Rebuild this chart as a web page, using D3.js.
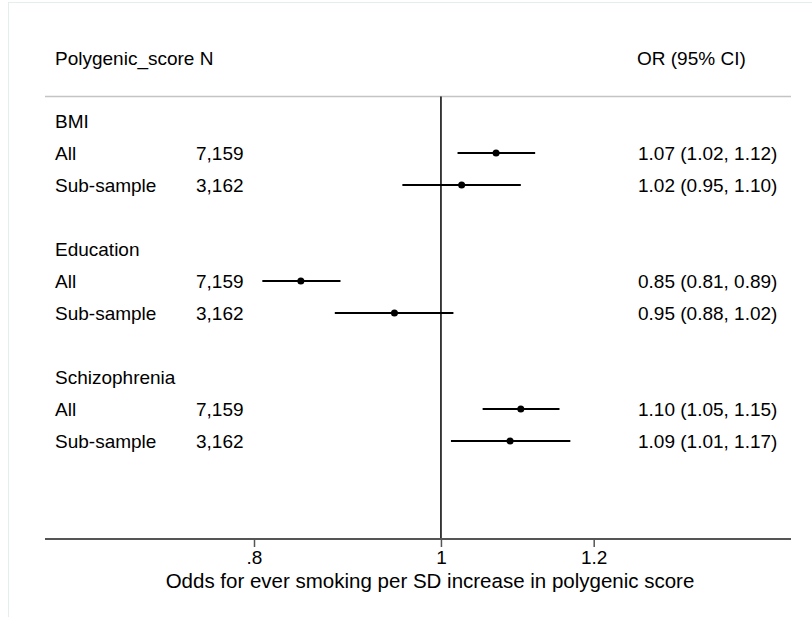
<!DOCTYPE html>
<html>
<head>
<meta charset="utf-8">
<script src="https://cdn.jsdelivr.net/npm/d3@7"></script>
<style>
  body { margin: 0; background: #fff; }
  svg text { font-family: "Liberation Sans", Arial, sans-serif; fill: #000; }
</style>
</head>
<body>
<svg id="plot" width="812" height="617"></svg>
<script>
// rows of the forest plot, top to bottom ("" = spacer row)
var rowLabels = ["BMI", "All", "Sub-sample", "", "Education", "All", "Sub-sample", "", "Schizophrenia", "All", "Sub-sample"];
var rowN      = ["", "7,159", "3,162", "", "", "7,159", "3,162", "", "", "7,159", "3,162"];
var rowOR     = [null, 1.068, 1.025, null, null, 0.846, 0.946, null, null, 1.100, 1.086];
var rowLo     = [null, 1.020, 0.955, null, null, 0.808, 0.881, null, null, 1.051, 1.012];
var rowHi     = [null, 1.119, 1.100, null, null, 0.887, 1.015, null, null, 1.152, 1.167];
var rowText   = ["", "1.07 (1.02, 1.12)", "1.02 (0.95, 1.10)", "", "", "0.85 (0.81, 0.89)", "0.95 (0.88, 1.02)", "", "", "1.10 (1.05, 1.15)", "1.09 (1.01, 1.17)"];
var xTicks = [0.8, 1, 1.2];
var xTickLabels = [".8", "1", "1.2"];

var svg = d3.select('#plot');

// faint outer graph-region border
svg.append('rect')
    .attr('x', 8.5).attr('y', 2.5).attr('width', 900).attr('height', 700)
    .attr('fill', 'none').attr('stroke', '#e4eeee').attr('stroke-width', 1);

var x = d3.scaleLog().domain([0.8, 1.2]).range([254, 593.7]);
var y = d3.scalePoint().domain(d3.range(rowLabels.length)).range([121, 441]);

var leftX = 45, rightX = 791, axisY = 539, headY = 58, lineY = 96.5;
var fs = 19;

// header
svg.append('text').attr('x', 55).attr('y', headY).attr('dy', '0.35em')
    .attr('font-size', fs).text('Polygenic_score N');
svg.append('text').attr('x', 637).attr('y', headY).attr('dy', '0.35em')
    .attr('font-size', fs).text('OR (95% CI)');
svg.append('line')
    .attr('x1', leftX).attr('x2', rightX).attr('y1', lineY).attr('y2', lineY)
    .attr('stroke', '#c4c4c4').attr('stroke-width', 1.5);

// null line at OR = 1
svg.append('line')
    .attr('x1', x(1)).attr('x2', x(1)).attr('y1', lineY).attr('y2', axisY)
    .attr('stroke', '#000').attr('stroke-width', 1.5);

// row texts
rowLabels.forEach(function(lab, i){
    if(lab) svg.append('text').attr('x', 55).attr('y', y(i)).attr('dy', '0.35em')
        .attr('font-size', fs).text(lab);
    if(rowN[i]) svg.append('text').attr('x', 196).attr('y', y(i)).attr('dy', '0.35em')
        .attr('font-size', fs).text(rowN[i]);
    if(rowText[i]) svg.append('text').attr('x', 638).attr('y', y(i)).attr('dy', '0.35em')
        .attr('font-size', fs).text(rowText[i]);
});

// CIs and point estimates
var est = d3.range(rowLabels.length).filter(function(i){ return rowOR[i] != null; });
svg.selectAll('line.ci').data(est).enter().append('line')
    .attr('class', 'ci')
    .attr('x1', function(i){ return x(rowLo[i]); })
    .attr('x2', function(i){ return x(rowHi[i]); })
    .attr('y1', function(i){ return y(i); })
    .attr('y2', function(i){ return y(i); })
    .attr('stroke', '#000').attr('stroke-width', 2);
svg.selectAll('circle.pt').data(est).enter().append('circle')
    .attr('class', 'pt')
    .attr('cx', function(i){ return x(rowOR[i]); })
    .attr('cy', function(i){ return y(i); })
    .attr('r', 3.5).attr('fill', '#000');

// x axis
var axis = d3.axisBottom(x).tickValues(xTicks).tickSize(8).tickPadding(4)
    .tickFormat(function(d, i){ return xTickLabels[i]; });
var gx = svg.append('g').attr('transform', 'translate(0,' + axisY + ')').call(axis);
gx.select('.domain').remove();
gx.selectAll('.tick line').attr('stroke', '#555').attr('stroke-width', 1.5);
gx.selectAll('.tick text').attr('font-size', 19).attr('font-family', null).attr('fill', '#000');
svg.append('line')
    .attr('x1', leftX).attr('x2', rightX).attr('y1', axisY).attr('y2', axisY)
    .attr('stroke', '#555').attr('stroke-width', 2);

svg.append('text')
    .attr('x', 430).attr('y', 581).attr('dy', '0.35em')
    .attr('text-anchor', 'middle').attr('font-size', 20.5)
    .text('Odds for ever smoking per SD increase in polygenic score');
</script>
</body>
</html>
